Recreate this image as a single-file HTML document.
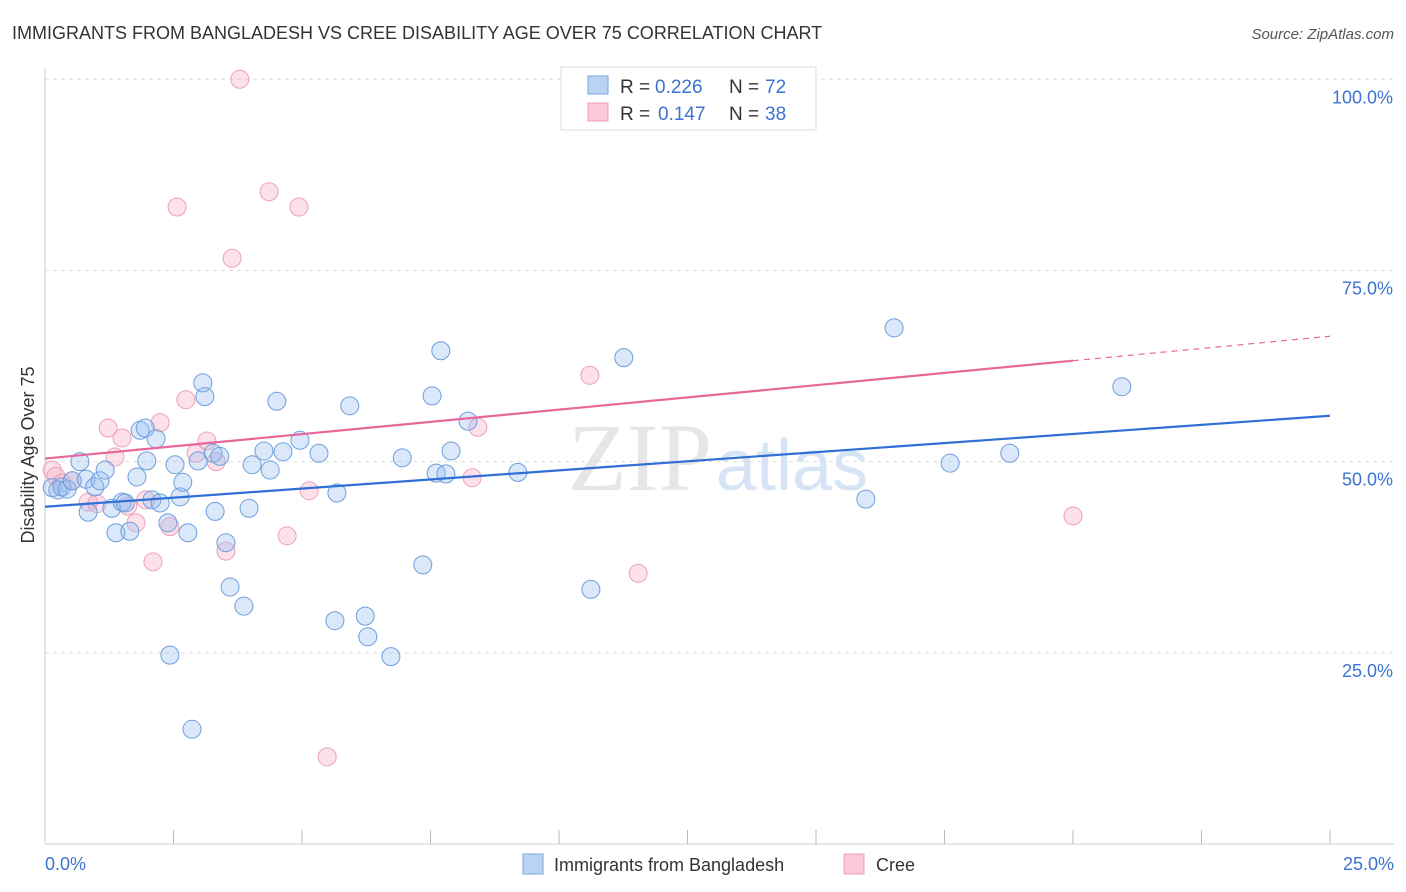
<!DOCTYPE html>
<html><head><meta charset="utf-8"><style>
body{margin:0;background:#fff;font-family:"Liberation Sans",sans-serif}
svg{display:block}
</style></head><body>
<svg id="c" width="1406" height="892">
<text x="12" y="39" font-size="18" fill="#333">IMMIGRANTS FROM BANGLADESH VS CREE DISABILITY AGE OVER 75 CORRELATION CHART</text>
<text x="1394" y="39" font-size="15" fill="#555" font-style="italic" text-anchor="end">Source: ZipAtlas.com</text>
<text x="712" y="490" font-size="96" fill="#e6e6e6" text-anchor="end" font-family="Liberation Serif">ZIP</text>
<text x="716" y="490" font-size="72" fill="#d6e4f5">atlas</text>
<g id="grid"></g><g id="pts"></g><g id="lines"></g>
<text transform="translate(34,455) rotate(-90)" font-size="18" fill="#333" text-anchor="middle">Disability Age Over 75</text>
<text x="45" y="870" font-size="18" fill="#3b73d1">0.0%</text>
<text x="1394" y="870" font-size="18" fill="#3b73d1" text-anchor="end">25.0%</text>
<g>
<rect x="561" y="67" width="255" height="63" fill="#fff" stroke="#ddd"/>
<rect x="588" y="76" width="20" height="18" fill="#b9d3f3" stroke="#7aa7e0"/>
<rect x="588" y="103" width="20" height="18" fill="#f9c9d8" stroke="#eea0b8"/>
<text x="620" y="93" font-size="19" fill="#333">R =</text>
<text x="655" y="93" font-size="19" fill="#3b73d1">0.226</text>
<text x="729" y="93" font-size="19" fill="#333">N =</text>
<text x="765" y="93" font-size="19" fill="#3b73d1">72</text>
<text x="620" y="120" font-size="19" fill="#333">R =</text>
<text x="658" y="120" font-size="19" fill="#3b73d1">0.147</text>
<text x="729" y="120" font-size="19" fill="#333">N =</text>
<text x="765" y="120" font-size="19" fill="#3b73d1">38</text>
</g>
<g>
<rect x="523" y="854" width="20" height="20" fill="#b9d3f3" stroke="#7aa7e0"/>
<text x="554" y="871" font-size="18" fill="#333">Immigrants from Bangladesh</text>
<rect x="844" y="854" width="20" height="20" fill="#f9c9d8" stroke="#eea0b8"/>
<text x="876" y="871" font-size="18" fill="#333">Cree</text>
</g>
</svg>
<script>
const blueX=[.14,.25,.33,.43,.53,.68,.80,.84,.97,1.07,1.17,1.30,1.38,1.50,1.56,1.65,1.79,1.85,1.95,1.98,2.08,2.16,2.24,2.39,2.43,2.53,2.63,2.68,2.78,2.86,2.98,3.07,3.11,3.27,3.31,3.40,3.52,3.60,3.87,3.97,4.03,4.26,4.38,4.51,4.63,4.96,5.33,5.64,5.68,5.93,6.23,6.28,6.73,6.95,7.35,7.53,7.61,7.70,7.80,7.90,8.23,9.20,10.62,11.26,15.97,16.52,17.61,18.77,20.95];
const blueY=[46.6,46.3,46.7,46.4,47.5,50.0,47.7,43.4,46.7,47.5,48.9,43.9,40.7,44.7,44.6,40.9,48.0,54.1,54.4,50.1,45.0,53.0,44.6,42.0,24.7,49.6,45.4,47.3,40.7,15.0,50.1,60.3,58.5,51.1,43.5,50.7,39.4,33.6,31.1,43.9,49.6,51.4,48.9,57.9,51.3,52.8,51.1,29.2,45.9,57.3,29.8,27.1,24.5,50.5,36.5,58.6,48.5,64.5,48.4,51.4,55.3,48.6,33.3,63.6,45.1,67.5,49.8,51.1,59.8];
const pinkX=[.14,.21,.33,.53,.84,1.01,1.23,1.36,1.50,1.61,1.77,1.96,2.10,2.24,2.43,2.57,2.74,2.94,3.15,3.33,3.52,3.64,3.79,4.36,4.71,4.94,5.14,5.49,8.31,8.42,10.60,11.54,20.0];
const pinkY=[48.9,48.1,47.2,47.5,44.7,44.5,54.4,50.6,53.1,44.2,42.0,45.0,36.9,55.1,41.5,83.3,58.1,51.1,52.7,50.0,38.3,76.6,100.0,85.3,40.3,83.3,46.2,11.4,47.9,54.5,61.3,35.4,42.9];
const yTicks=[25,50,75,100];
const yTickLabels=["25.0%","50.0%","75.0%","100.0%"];
const blueLine=[44.1,56.0];
const pinkLine=[50.4,63.2,66.4];
const NS="http://www.w3.org/2000/svg";
const X=v=>45+v/25*1285, Y=v=>844-v*7.647;
function mk(t,a,p){const e=document.createElementNS(NS,t);for(const k in a)e.setAttribute(k,a[k]);p.appendChild(e);return e;}
const g=document.getElementById('grid');
yTicks.forEach((t,i)=>{
 const l=mk('line',{x1:45,x2:1394,y1:Y(t),y2:Y(t),stroke:'#ddd','stroke-dasharray':'4,4'},g);
 
 
 const tx=mk('text',{x:1393,y:Y(t)+24,'font-size':18,fill:'#3b73d1','text-anchor':'end'},g);
 tx.textContent=yTickLabels[i];
 
 
});
const ax=mk('line',{x1:45,x2:45,y1:68,y2:844,stroke:'#ccc'},g);


const bx=mk('line',{x1:45,x2:1394,y1:844,y2:844,stroke:'#ccc'},g);


for(let i=1;i<=10;i++){const t=mk('line',{x1:X(i*2.5),x2:X(i*2.5),y1:830,y2:844,stroke:'#bbb'},g);
 
 }
const p=document.getElementById('pts');
pinkX.forEach((v,i)=>{const c=mk('circle',{cx:X(v),cy:Y(pinkY[i]),r:9,fill:'rgba(246,170,195,0.35)',stroke:'#eea0b8','stroke-width':1},p);
 
 });
blueX.forEach((v,i)=>{const c=mk('circle',{cx:X(v),cy:Y(blueY[i]),r:9,fill:'rgba(150,190,240,0.35)',stroke:'#6d9fdc','stroke-width':1},p);
 
 });
const L=document.getElementById('lines');
const b=mk('line',{x1:X(0),y1:Y(blueLine[0]),x2:X(25),y2:Y(blueLine[1]),stroke:'#2f6fd6','stroke-width':2.2},L);


const pk=mk('line',{x1:X(0),y1:Y(pinkLine[0]),x2:X(20),y2:Y(pinkLine[1]),stroke:'#e8679a','stroke-width':2.2},L);


const pd=mk('line',{x1:X(20),y1:Y(pinkLine[1]),x2:X(25),y2:Y(pinkLine[2]),stroke:'#e8679a','stroke-width':1.2,'stroke-dasharray':'6,5'},L);


</script>
</body></html>
